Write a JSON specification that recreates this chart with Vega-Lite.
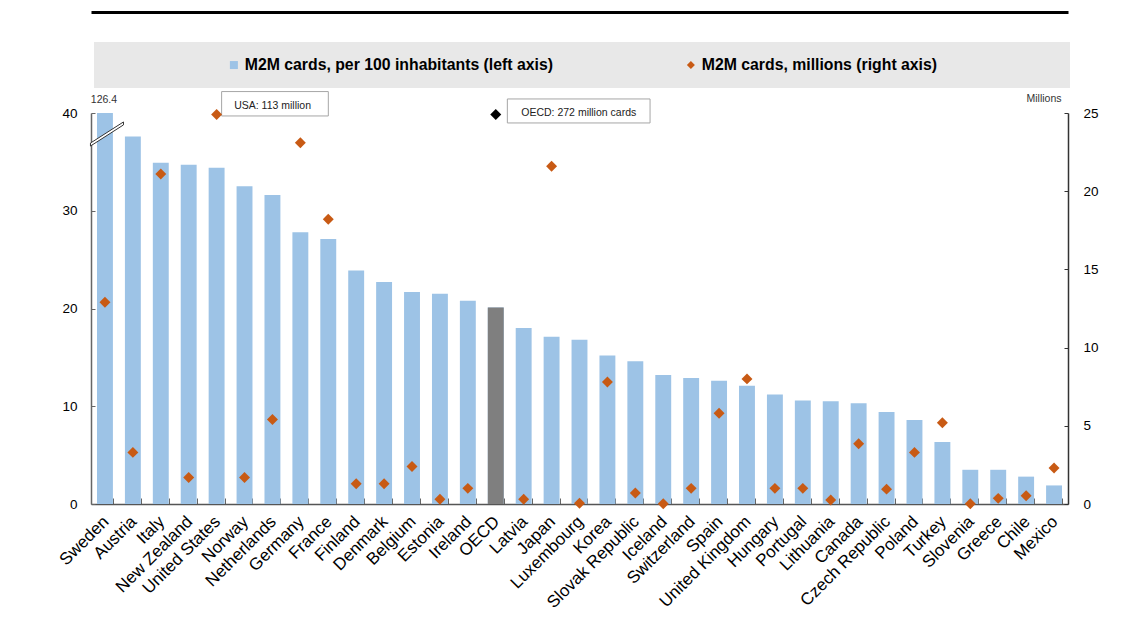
{
  "$schema": "https://vega.github.io/schema/vega-lite/v6.json",
  "width": 977,
  "height": 391,
  "autosize": "none",
  "padding": {"left": 91, "top": 113, "right": 73, "bottom": 133},
  "background": "#ffffff",
  "config": {"font": "Liberation Sans", "view": {"stroke": null}},
  "data": {
    "values": [
      {"country": "Sweden", "per100": 40, "millions": 12.9, "note": 126.4},
      {"country": "Austria", "per100": 37.6, "millions": 3.3},
      {"country": "Italy", "per100": 34.9, "millions": 21.1},
      {"country": "New Zealand", "per100": 34.7, "millions": 1.7},
      {"country": "United States", "per100": 34.4, "millions": 24.9},
      {"country": "Norway", "per100": 32.5, "millions": 1.7},
      {"country": "Netherlands", "per100": 31.6, "millions": 5.4},
      {"country": "Germany", "per100": 27.8, "millions": 23.1},
      {"country": "France", "per100": 27.1, "millions": 18.2},
      {"country": "Finland", "per100": 23.9, "millions": 1.3},
      {"country": "Denmark", "per100": 22.7, "millions": 1.3},
      {"country": "Belgium", "per100": 21.7, "millions": 2.4},
      {"country": "Estonia", "per100": 21.5, "millions": 0.3},
      {"country": "Ireland", "per100": 20.8, "millions": 1.0},
      {"country": "OECD", "per100": 20.1, "millions": 24.9},
      {"country": "Latvia", "per100": 18.0, "millions": 0.3},
      {"country": "Japan", "per100": 17.1, "millions": 21.6},
      {"country": "Luxembourg", "per100": 16.8, "millions": 0.05},
      {"country": "Korea", "per100": 15.2, "millions": 7.8},
      {"country": "Slovak Republic", "per100": 14.6, "millions": 0.7},
      {"country": "Iceland", "per100": 13.2, "millions": 0.02},
      {"country": "Switzerland", "per100": 12.9, "millions": 1.0},
      {"country": "Spain", "per100": 12.6, "millions": 5.8},
      {"country": "United Kingdom", "per100": 12.1, "millions": 8.0},
      {"country": "Hungary", "per100": 11.2, "millions": 1.0},
      {"country": "Portugal", "per100": 10.6, "millions": 1.0},
      {"country": "Lithuania", "per100": 10.5, "millions": 0.25},
      {"country": "Canada", "per100": 10.3, "millions": 3.85},
      {"country": "Czech Republic", "per100": 9.4, "millions": 0.95},
      {"country": "Poland", "per100": 8.6, "millions": 3.3},
      {"country": "Turkey", "per100": 6.35, "millions": 5.2},
      {"country": "Slovenia", "per100": 3.5, "millions": 0.02},
      {"country": "Greece", "per100": 3.5, "millions": 0.36},
      {"country": "Chile", "per100": 2.8, "millions": 0.53},
      {"country": "Mexico", "per100": 1.9, "millions": 2.3}
    ]
  },
  "resolve": {"scale": {"y": "independent"}, "axis": {"x": "independent"}},
  "layer": [
    {
      "encoding": {
        "x": {
          "field": "country", "type": "nominal", "sort": null,
          "scale": {"paddingInner": 0.43, "paddingOuter": 0.215},
          "axis": {"title": null, "labelAngle": -45, "labelAlign": "right", "labelBaseline": "top", "labelFontSize": 17, "labelColor": "#000", "labelPadding": 15, "labelOffset": -5, "labelLimit": 400, "tickBand": "extent", "tickSize": -6, "tickColor": "#666", "domainColor": "#555", "domainWidth": 1.5}
        },
        "y": {
          "field": "per100", "type": "quantitative",
          "scale": {"domain": [0, 40], "nice": false},
          "axis": {"orient": "left", "title": null, "values": [0, 10, 20, 30, 40], "grid": false, "tickSize": -4, "labelPadding": 18, "labelFontSize": 13.5, "labelColor": "#000", "domainColor": "#666", "tickColor": "#666", "domainWidth": 1.5}
        }
      },
      "layer": [
        {
          "mark": {"type": "bar"},
          "encoding": {
            "color": {
              "datum": "M2M cards, per 100 inhabitants (left axis)", "type": "nominal",
              "scale": {"domain": ["M2M cards, per 100 inhabitants (left axis)", "M2M cards, millions (right axis)"], "range": ["#9DC3E6", "#C85A14"]},
              "legend": {
                "orient": "none", "legendX": 3, "legendY": -71, "direction": "horizontal", "columns": 2,
                "title": " ", "titleOrient": "right", "titlePadding": 118, "titleFontSize": 1,
                "fillColor": "#E8E8E8", "padding": 15,
                "symbolOffset": 117, "labelOffset": 3, "columnPadding": 13,
                "labelFontSize": 15.8, "labelFontWeight": "bold", "labelColor": "#000", "labelLimit": 1000,
                "symbolSize": 64, "symbolStrokeWidth": 0,
                "encode": {"symbols": {"update": {"shape": {"signal": "datum.value === 'M2M cards, millions (right axis)' ? 'diamond' : 'square'"}}}}
              }
            }
          }
        },
        {
          "transform": [{"filter": "datum.country === 'OECD'"}],
          "mark": {"type": "bar", "color": "#7F7F7F"}
        },
        {
          "transform": [{"filter": "datum.note != null"}],
          "mark": {"type": "text", "dy": -13, "dx": -1, "fontSize": 10.5, "color": "#333"},
          "encoding": {"text": {"field": "note", "type": "quantitative"}}
        },
        {
          "transform": [{"filter": "datum.country === 'Sweden'"}],
          "mark": {"type": "point", "shape": "M-1,0.73L1,-0.55L1,-0.73L-1,0.55Z", "size": 1089, "filled": true, "fill": "#ffffff", "stroke": "#333333", "strokeWidth": 1, "opacity": 1, "yOffset": 21, "xOffset": 2}
        }
      ]
    },
    {
      "encoding": {
        "x": {
          "field": "country", "type": "nominal", "sort": null,
          "axis": {"orient": "top", "offset": 101, "labels": false, "ticks": false, "title": null, "domainColor": "#000", "domainWidth": 3}
        },
        "y": {
          "field": "millions", "type": "quantitative",
          "scale": {"domain": [0, 25], "nice": false},
          "axis": {"orient": "right", "title": "Millions", "titleAngle": 0, "titleX": -7, "titleY": -15, "titleAlign": "right", "titleBaseline": "middle", "titleFontSize": 10.5, "titleFontWeight": "normal", "titleColor": "#333", "values": [0, 5, 10, 15, 20, 25], "grid": false, "tickSize": -4, "labelPadding": 19, "labelFontSize": 13.5, "labelColor": "#000", "domainColor": "#333", "tickColor": "#333", "domainWidth": 1.5}
        }
      },
      "layer": [
        {
          "transform": [{"filter": "datum.country === 'United States'"}],
          "mark": {"type": "point", "shape": "M0.1,-0.46H2.234V0.028H0.1Z", "size": 10000, "filled": true, "fill": "#ffffff", "stroke": "#A6A6A6", "strokeWidth": 1, "opacity": 1}
        },
        {
          "transform": [{"filter": "datum.country === 'United States'"}],
          "mark": {"type": "text", "text": "USA: 113 million", "dx": 56, "dy": -9, "fontSize": 10.5, "color": "#222", "align": "center", "baseline": "middle"}
        },
        {
          "transform": [{"filter": "datum.country === 'OECD'"}],
          "mark": {"type": "point", "shape": "M0.232,-0.312H3.086V0.168H0.232Z", "size": 10000, "filled": true, "fill": "#ffffff", "stroke": "#A6A6A6", "strokeWidth": 1, "opacity": 1}
        },
        {
          "transform": [{"filter": "datum.country === 'OECD'"}],
          "mark": {"type": "text", "text": "OECD: 272 million  cards", "dx": 83, "dy": -2, "fontSize": 10.5, "color": "#222", "align": "center", "baseline": "middle"}
        },
        {
          "transform": [{"filter": "datum.country !== 'OECD'"}],
          "mark": {"type": "point", "shape": "diamond", "filled": true, "size": 120, "opacity": 1},
          "encoding": {"color": {"datum": "M2M cards, millions (right axis)", "type": "nominal"}}
        },
        {
          "transform": [{"filter": "datum.country === 'OECD'"}],
          "mark": {"type": "point", "shape": "diamond", "filled": true, "size": 120, "opacity": 1, "color": "#000000"}
        }
      ]
    }
  ]
}
